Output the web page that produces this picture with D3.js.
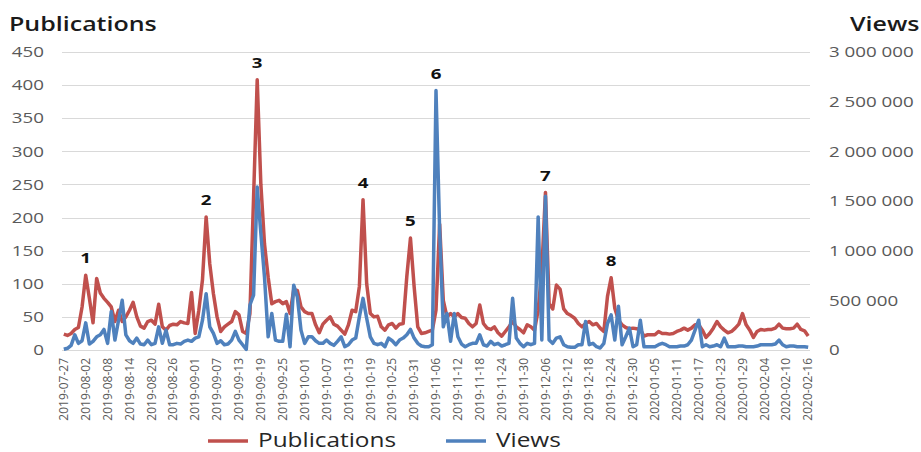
<!DOCTYPE html>
<html>
<head>
<meta charset="utf-8">
<script src="https://cdn.jsdelivr.net/npm/d3@7/dist/d3.min.js"></script>
<style>
  body { margin: 0; background: #fff; }
  text { font-family: 'Open Sans', sans-serif; }
</style>
</head>
<body>
<div class="canvas"></div>
<script>
'use strict';

// daily series, 2019-07-27 .. 2020-02-16
const startDate = '2019-07-27';
const endDate = '2020-02-16';

const publications = [
  24, 22, 25, 31, 34, 65, 113, 78, 41, 108,
  86, 78, 72, 65, 43, 60, 43, 50, 60, 72,
  50, 36, 33, 43, 45, 39, 69, 35, 30, 37,
  39, 38, 43, 41, 40, 87, 25, 60, 106, 201,
  130, 85, 50, 28, 35, 39, 43, 58, 53, 28,
  25, 55, 230, 408, 250, 160, 110, 70, 73, 75,
  70, 73, 55, 91, 90, 65, 58, 55, 55, 38,
  26, 39, 45, 50, 39, 36, 30, 24, 38, 60,
  58, 96, 227, 100, 55, 50, 51, 35, 30, 38,
  40, 33, 39, 40, 111, 169, 96, 35, 25, 26,
  28, 30, 60, 190, 75, 50, 55, 50, 55, 49,
  48, 40, 35, 40, 68, 40, 33, 31, 35, 26,
  21, 28, 35, 43, 35, 31, 26, 38, 35, 30,
  60, 120, 238, 70, 62, 98, 92, 62, 55, 52,
  48, 40, 35, 40, 43, 38, 40, 33, 28, 81,
  109, 63, 45, 38, 34, 32, 33, 32, 31, 21,
  23, 23, 23, 28, 25, 25, 24, 25, 28, 30,
  33, 30, 33, 38, 38, 30, 19, 25, 33, 43,
  35, 30, 26, 28, 33, 39, 55, 38, 30, 19,
  28, 31, 30, 31, 31, 33, 39, 33, 32, 32,
  33, 39, 31, 29, 21
];

// views, in thousands
const viewsThousands = [
  7, 17, 47, 153, 67, 93, 273, 60, 87, 133,
  153, 207, 67, 387, 100, 300, 500, 153, 93, 67,
  120, 60, 53, 100, 53, 67, 233, 67, 200, 53,
  53, 67, 60, 87, 100, 87, 120, 133, 300, 567,
  233, 167, 67, 93, 53, 60, 100, 187, 100, 53,
  7, 453, 553, 1640, 1173, 733, 133, 367, 100, 87,
  87, 360, 33, 653, 533, 200, 67, 133, 133, 93,
  67, 67, 100, 67, 47, 87, 133, 33, 53, 100,
  120, 333, 520, 320, 133, 67, 53, 67, 33, 120,
  93, 53, 100, 120, 153, 207, 120, 67, 40, 33,
  33, 53, 2613, 1200, 233, 367, 87, 367, 133, 60,
  33, 53, 67, 67, 153, 53, 40, 87, 53, 67,
  40, 53, 67, 520, 120, 67, 33, 67, 53, 67,
  1340, 100, 1547, 100, 67, 120, 133, 53, 33, 27,
  27, 53, 53, 287, 53, 67, 33, 20, 67, 267,
  353, 100, 440, 53, 133, 220, 33, 53, 300, 33,
  33, 33, 33, 53, 67, 53, 33, 33, 33, 40,
  40, 53, 100, 200, 300, 33, 53, 33, 40, 53,
  33, 120, 33, 33, 33, 40, 40, 33, 33, 33,
  40, 53, 53, 53, 53, 60, 100, 53, 33, 40,
  40, 33, 33, 33, 27
];

const leftTicks = [0, 50, 100, 150, 200, 250, 300, 350, 400, 450];
const rightTicks = [0, 500, 1000, 1500, 2000, 2500, 3000];
const tickEvery = 6; // one date label every 6 days

const annotations = [
  { label: '1', date: '2019-08-02' },
  { label: '2', date: '2019-09-04' },
  { label: '3', date: '2019-09-18' },
  { label: '4', date: '2019-10-17' },
  { label: '5', date: '2019-10-30' },
  { label: '6', date: '2019-11-06' },
  { label: '7', date: '2019-12-06' },
  { label: '8', date: '2019-12-24' }
];

const seriesNames = ['Publications', 'Views'];
const colors = { pub: '#c0504d', views: '#4f81bd' };

const width = 921;
const height = 452;
const SX = 1.25; // text in the reference is drawn wide

const parse = d3.utcParse('%Y-%m-%d');
const fmtDate = d3.utcFormat('%Y-%m-%d');
const dates = d3.utcDay.range(parse(startDate), d3.utcDay.offset(parse(endDate), 1)).map(fmtDate);

const svg = d3
  .select('.canvas')
  .append('svg')
  .attr('width', width)
  .attr('height', height);

const plot = { left: 62, right: 810, top: 52, bottom: 350 };

const x = d3.scalePoint().domain(dates).range([plot.left, plot.right]).padding(0.5);
const yL = d3.scaleLinear().domain([0, 450]).range([plot.bottom, plot.top]);
const yR = d3.scaleLinear().domain([0, 3000]).range([plot.bottom, plot.top]);

const spaceFmt = d3.formatLocale({ decimal: '.', thousands: ' ', grouping: [3], currency: ['', ''] }).format(',');

const wideText = (g, tx, ty, str) =>
  g.append('text').attr('transform', `translate(${tx},${ty}) scale(${SX},1)`).text(str);

// gridlines
svg
  .append('g')
  .selectAll('line')
  .data(leftTicks)
  .enter()
  .append('line')
  .attr('x1', plot.left)
  .attr('x2', plot.right)
  .attr('y1', d => Math.round(yL(d)) + 0.5)
  .attr('y2', d => Math.round(yL(d)) + 0.5)
  .attr('stroke', '#d9d9d9')
  .attr('stroke-width', 1);

// left axis labels
const leftAxis = svg.append('g').attr('fill', '#595959').style('font-size', '15px');
leftTicks.forEach(t => {
  wideText(leftAxis, 44, yL(t), t).attr('text-anchor', 'end').attr('dy', '0.35em');
});

// right axis labels
const rightAxis = svg.append('g').attr('fill', '#595959').style('font-size', '15px');
rightTicks.forEach(t => {
  wideText(rightAxis, 829, yR(t), spaceFmt(t * 1000)).attr('dy', '0.35em');
});

// x axis labels
const xLabels = dates.filter((d, i) => i % tickEvery === 0);
svg
  .append('g')
  .selectAll('text')
  .data(xLabels)
  .enter()
  .append('text')
  .attr('transform', d => `translate(${x(d)},358) rotate(-90)`)
  .attr('text-anchor', 'end')
  .attr('dy', '0.35em')
  .attr('fill', '#595959')
  .style('font-size', '12px')
  .text(d => d);

// lines
const pubLine = d3
  .line()
  .x((d, i) => x(dates[i]))
  .y(d => yL(d));
const viewLine = d3
  .line()
  .x((d, i) => x(dates[i]))
  .y(d => yR(d));

svg
  .append('path')
  .datum(publications)
  .attr('d', pubLine)
  .attr('fill', 'none')
  .attr('stroke', colors.pub)
  .attr('stroke-width', 3.5)
  .attr('stroke-linejoin', 'round');

svg
  .append('path')
  .datum(viewsThousands)
  .attr('d', viewLine)
  .attr('fill', 'none')
  .attr('stroke', colors.views)
  .attr('stroke-width', 3.5)
  .attr('stroke-linejoin', 'round');

// peak numbers
const notes = svg.append('g').attr('fill', '#111').style('font-size', '15px').style('font-weight', 700);
annotations.forEach(a => {
  const i = dates.indexOf(a.date);
  const top = Math.min(yL(publications[i]), yR(viewsThousands[i]));
  wideText(notes, x(a.date), top - 17, a.label).attr('text-anchor', 'middle').attr('dy', '0.35em');
});

// axis titles
const titles = svg.append('g').attr('fill', '#1a1a1a').style('font-size', '20px').style('font-weight', 600);
wideText(titles, 9, 31, seriesNames[0]);
wideText(titles, 850, 31, seriesNames[1]);

// legend
const legend = svg.append('g').style('font-size', '19.5px').attr('fill', '#262626');
const legendItems = [
  { name: seriesNames[0], color: colors.pub, x: 208 },
  { name: seriesNames[1], color: colors.views, x: 446 }
];
legendItems.forEach(item => {
  legend
    .append('line')
    .attr('x1', item.x)
    .attr('x2', item.x + 40)
    .attr('y1', 441)
    .attr('y2', 441)
    .attr('stroke', item.color)
    .attr('stroke-width', 3.5);
  wideText(legend, item.x + 50, 447, item.name);
});
</script>
</body>
</html>
